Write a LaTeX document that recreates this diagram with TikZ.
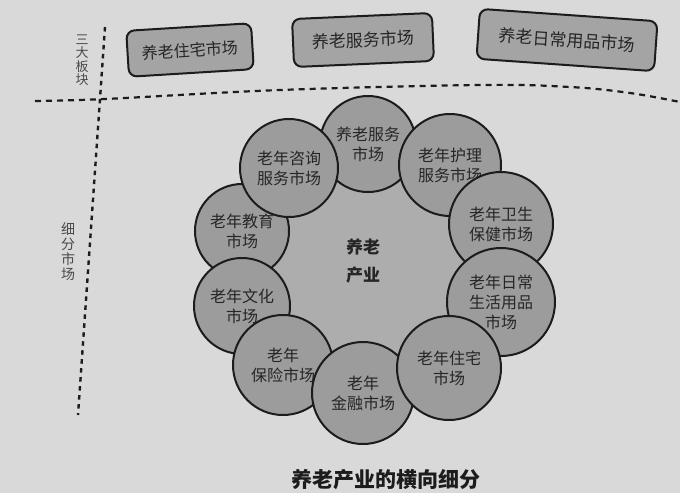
\documentclass[tikz,border=0pt]{standalone}
\usepackage{fontspec}
\newfontfamily\cjk{Noto Sans CJK SC}
\definecolor{bg}{HTML}{D9D9D9}
\definecolor{ringfill}{HTML}{9C9C9C}
\definecolor{corefill}{HTML}{ADADAD}
\definecolor{boxfill}{HTML}{A4A4A4}
\definecolor{inkc}{HTML}{1C1C1C}
\definecolor{txt}{HTML}{262626}
\definecolor{sidetxt}{HTML}{4A4A4A}
\begin{document}
\begin{tikzpicture}[x=1pt,y=-1pt,
  seg/.style={circle,draw=inkc,line width=2pt,fill=ringfill,inner sep=0pt,align=center,
              font=\cjk\fontsize{16}{20}\selectfont,text=txt},
  plate/.style={rectangle,rounded corners=8pt,draw=inkc,line width=2pt,fill=boxfill,
              inner sep=0pt,text=txt},
  divider/.style={draw=inkc,line width=2.2pt,dash pattern=on 6pt off 5pt},
  vdivider/.style={draw=inkc,line width=2.4pt,dash pattern=on 4.5pt off 4.5pt},
  side/.style={align=center,text=sidetxt}]
\fill[bg] (0,0) rectangle (680,493);
\useasboundingbox (0,0) rectangle (680,493);

% top three plates
\node[plate,minimum width=125pt,minimum height=46pt,rotate=3.5,
      font=\cjk\fontsize{16}{18}\selectfont] (p1) at (190,50) {养老住宅市场};
\node[plate,minimum width=140pt,minimum height=48pt,rotate=2.5,
      font=\cjk\fontsize{17}{19}\selectfont] (p2) at (363,40) {养老服务市场};
\node[plate,minimum width=178pt,minimum height=50pt,rotate=-4,
      font=\cjk\fontsize{17}{19}\selectfont] (p3) at (567,40) {养老日常用品市场};

% dividers
\coordinate (vtop) at (105,27);
\coordinate (vbot) at (78,415);
\draw[vdivider] (vtop) -- (vbot);
\draw[divider] plot[smooth,tension=0.6] coordinates
  {(35,101) (105,99) (280,90) (480,85) (570,87) (630,93) (680,102)};

% side labels
\node[side,font=\cjk\fontsize{13}{13.5}\selectfont] (lblA) at (82,60) {三\\大\\板\\块};
\node[side,font=\cjk\fontsize{14}{15}\selectfont] (lblB) at (68,252) {细\\分\\市\\场};

% core
\node[circle,fill=corefill,minimum size=240pt,inner sep=0pt] (core) at (369,268) {};
\node[align=center,text=txt,font=\cjk\bfseries\fontsize{17}{28}\selectfont] (coretext) at (363,261) {养老\\产业};

% ring of circles
\node[seg,minimum size=94pt] (edu) at (242,231) {老年教育\\市场};
\node[seg,minimum size=96pt] (cult) at (242,306) {老年文化\\市场};
\node[seg,minimum size=100pt] (ins) at (283,365) {老年\\保险市场};
\node[seg,minimum size=102pt] (fin) at (363,393) {老年\\金融市场};
\node[seg,minimum size=96pt] (serv) at (368,144) {养老服务\\市场};
\node[seg,minimum size=98pt] (cons) at (289,168) {老年咨询\\服务市场};
\node[seg,minimum size=102pt] (care) at (450,165) {老年护理\\服务市场};
\node[seg,minimum size=104pt] (hlth) at (501,224) {老年卫生\\保健市场};
\node[seg,minimum size=108pt] (daily) at (501,302) {老年日常\\生活用品\\市场};
\node[seg,minimum size=104pt] (home) at (449,368) {老年住宅\\市场};

% title
\node[text=inkc,font=\cjk\bfseries\fontsize{21}{21}\selectfont] (title) at (386,480) {养老产业的横向细分};
\end{tikzpicture}
\end{document}
